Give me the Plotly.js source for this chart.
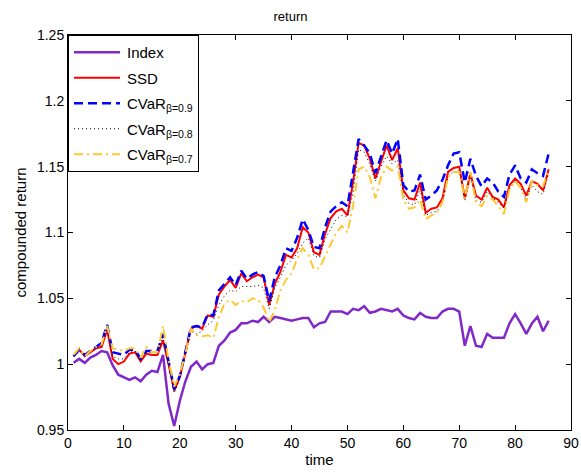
<!DOCTYPE html>
<html>
<head>
<meta charset="utf-8">
<script src="https://cdn.plot.ly/plotly-3.0.1.min.js"></script>
<style>html,body{margin:0;padding:0;background:#fff;}#chart{width:581px;height:472px;}</style>
</head>
<body>
<div id="chart"></div>
<script>
const time = Array.from({length: 86}, (_, i) => i + 1);

const indexRet = [1.001,1.004,1.001,1.005,1.007,1.010,1.009,0.999,0.992,0.990,
0.988,0.990,0.987,0.992,0.995,0.994,1.007,0.970,0.953,0.972,
0.987,0.998,1.002,0.996,1.000,1.001,1.014,1.018,1.024,1.026,
1.031,1.031,1.033,1.032,1.036,1.032,1.036,1.035,1.034,1.033,
1.034,1.035,1.035,1.028,1.031,1.032,1.040,1.040,1.040,1.038,
1.042,1.041,1.044,1.039,1.040,1.042,1.041,1.040,1.042,1.037,
1.035,1.034,1.039,1.036,1.035,1.035,1.040,1.042,1.042,1.040,
1.014,1.029,1.014,1.013,1.023,1.020,1.020,1.020,1.031,1.038,
1.031,1.023,1.031,1.036,1.025,1.033];

const ssd = [1.006,1.011,1.006,1.009,1.012,1.013,1.026,1.004,1.000,1.002,
1.008,1.009,1.002,1.008,1.007,1.007,1.018,1.000,0.980,0.990,
1.008,1.027,1.029,1.027,1.037,1.036,1.053,1.059,1.064,1.058,
1.069,1.063,1.066,1.068,1.066,1.045,1.061,1.070,1.083,1.081,
1.088,1.104,1.100,1.085,1.083,1.099,1.111,1.116,1.118,1.113,
1.138,1.168,1.166,1.156,1.141,1.153,1.166,1.155,1.164,1.132,
1.126,1.125,1.138,1.115,1.118,1.119,1.126,1.146,1.149,1.150,
1.126,1.145,1.128,1.125,1.134,1.127,1.125,1.119,1.136,1.141,
1.137,1.128,1.139,1.137,1.132,1.148];

const cvar09 = [1.006,1.011,1.007,1.010,1.013,1.016,1.030,1.009,1.008,1.007,
1.011,1.011,1.004,1.010,1.010,1.010,1.023,1.002,0.981,0.991,
1.009,1.028,1.029,1.028,1.038,1.037,1.056,1.061,1.066,1.060,
1.071,1.065,1.068,1.070,1.067,1.048,1.066,1.075,1.088,1.086,
1.096,1.110,1.102,1.089,1.088,1.104,1.116,1.120,1.123,1.120,
1.145,1.171,1.166,1.160,1.145,1.158,1.170,1.160,1.171,1.136,
1.131,1.132,1.144,1.125,1.128,1.132,1.140,1.151,1.160,1.161,
1.138,1.156,1.143,1.135,1.141,1.138,1.131,1.127,1.144,1.151,
1.141,1.138,1.148,1.145,1.143,1.160];

const cvar08 = [1.006,1.011,1.006,1.010,1.012,1.014,1.028,1.006,1.004,1.004,
1.009,1.010,1.003,1.009,1.009,1.009,1.021,0.999,0.978,0.989,
1.006,1.025,1.023,1.025,1.030,1.033,1.045,1.052,1.056,1.055,
1.059,1.059,1.059,1.060,1.058,1.042,1.058,1.066,1.075,1.079,
1.084,1.092,1.096,1.082,1.081,1.095,1.103,1.110,1.113,1.112,
1.130,1.163,1.161,1.152,1.139,1.150,1.158,1.152,1.155,1.129,
1.122,1.121,1.133,1.113,1.115,1.116,1.122,1.142,1.146,1.147,
1.124,1.142,1.124,1.123,1.131,1.126,1.123,1.119,1.133,1.139,
1.134,1.125,1.136,1.131,1.129,1.145];

const cvar07 = [1.007,1.012,1.006,1.010,1.013,1.015,1.029,1.012,1.011,1.010,
1.012,1.012,1.005,1.013,1.009,1.009,1.029,1.003,0.983,0.992,
1.008,1.027,1.022,1.021,1.022,1.020,1.036,1.046,1.049,1.045,
1.048,1.047,1.050,1.049,1.043,1.032,1.041,1.056,1.064,1.069,
1.080,1.088,1.083,1.072,1.073,1.082,1.090,1.100,1.105,1.100,
1.120,1.148,1.150,1.142,1.126,1.142,1.150,1.147,1.150,1.125,
1.118,1.119,1.125,1.110,1.113,1.115,1.123,1.142,1.146,1.146,
1.126,1.146,1.123,1.120,1.128,1.125,1.120,1.114,1.133,1.139,
1.134,1.123,1.139,1.136,1.135,1.148];

const names = ['Index', 'SSD', 'CVaR<sub>β=0.9</sub>', 'CVaR<sub>β=0.8</sub>', 'CVaR<sub>β=0.7</sub>'];
const xTicks = [0,10,20,30,40,50,60,70,80,90];
const yTicks = [0.95,1,1.05,1.1,1.15,1.2,1.25];
const yTickText = ['0.95','1','1.05','1.1','1.15','1.2','1.25'];

const traces = [
  {x: time, y: indexRet, name: names[0], legendgroup: 'g1', mode: 'lines', line: {color: 'rgb(128,40,200)', width: 2.5}},
  {x: time, y: ssd, name: names[1], legendgroup: 'g2', mode: 'lines', line: {color: 'rgb(255,0,0)', width: 2}},
  {x: time, y: cvar09, name: names[2], legendgroup: 'g3', mode: 'lines', line: {color: 'rgb(0,0,255)', width: 2.5, dash: '9px,5px'}},
  {x: time, y: cvar08, name: names[3], legendgroup: 'g4', mode: 'lines', line: {color: 'rgb(0,0,0)', width: 1, dash: '1px,3px'}},
  {x: time, y: cvar07, name: names[4], legendgroup: 'g5', mode: 'lines', line: {color: 'rgb(255,200,50)', width: 2, dash: '9px,4px,2px,4px'}}
];

const fam = 'Liberation Sans, Arial, sans-serif';

const layout = {
  width: 581, height: 472,
  margin: {l: 68, r: 10, t: 35, b: 42},
  paper_bgcolor: '#fff', plot_bgcolor: '#fff',
  font: {family: fam, size: 14, color: '#000'},
  showlegend: true,
  title: {text: 'return', font: {family: fam, size: 13, color: '#000'}, x: 0.5, xanchor: 'center', y: 0.965, yanchor: 'middle'},
  xaxis: {
    range: [0, 90], tickvals: xTicks, ticktext: xTicks.map(String),
    ticks: 'inside', ticklen: 5, tickcolor: '#000', showgrid: false, zeroline: false,
    showline: true, linecolor: '#000', linewidth: 1, mirror: 'ticks',
    tickfont: {family: fam, size: 14, color: '#000'},
    title: {text: 'time', font: {family: fam, size: 15, color: '#000'}, standoff: 4}
  },
  yaxis: {
    range: [0.95, 1.25], tickvals: yTicks, ticktext: yTickText,
    ticks: 'inside', ticklen: 5, tickcolor: '#000', showgrid: false, zeroline: false,
    showline: true, linecolor: '#000', linewidth: 1, mirror: 'ticks',
    tickfont: {family: fam, size: 14, color: '#000'},
    title: {text: 'compounded return', font: {family: fam, size: 15, color: '#000'}, standoff: 6}
  },
  legend: {
    x: 0, y: 1, xanchor: 'left', yanchor: 'top',
    bgcolor: '#fff', bordercolor: '#000', borderwidth: 1,
    font: {family: fam, size: 15, color: '#000'},
    tracegroupgap: 3, itemwidth: 48
  }
};

Plotly.newPlot('chart', traces, layout, {displayModeBar: false, staticPlot: true}).then(function (gd) {
  // lengthen legend line samples to match the reference
  gd.querySelectorAll('.legend .legendlines path').forEach(function (p) {
    p.setAttribute('d', 'M5,0h46');
  });
});
</script>
</body>
</html>
